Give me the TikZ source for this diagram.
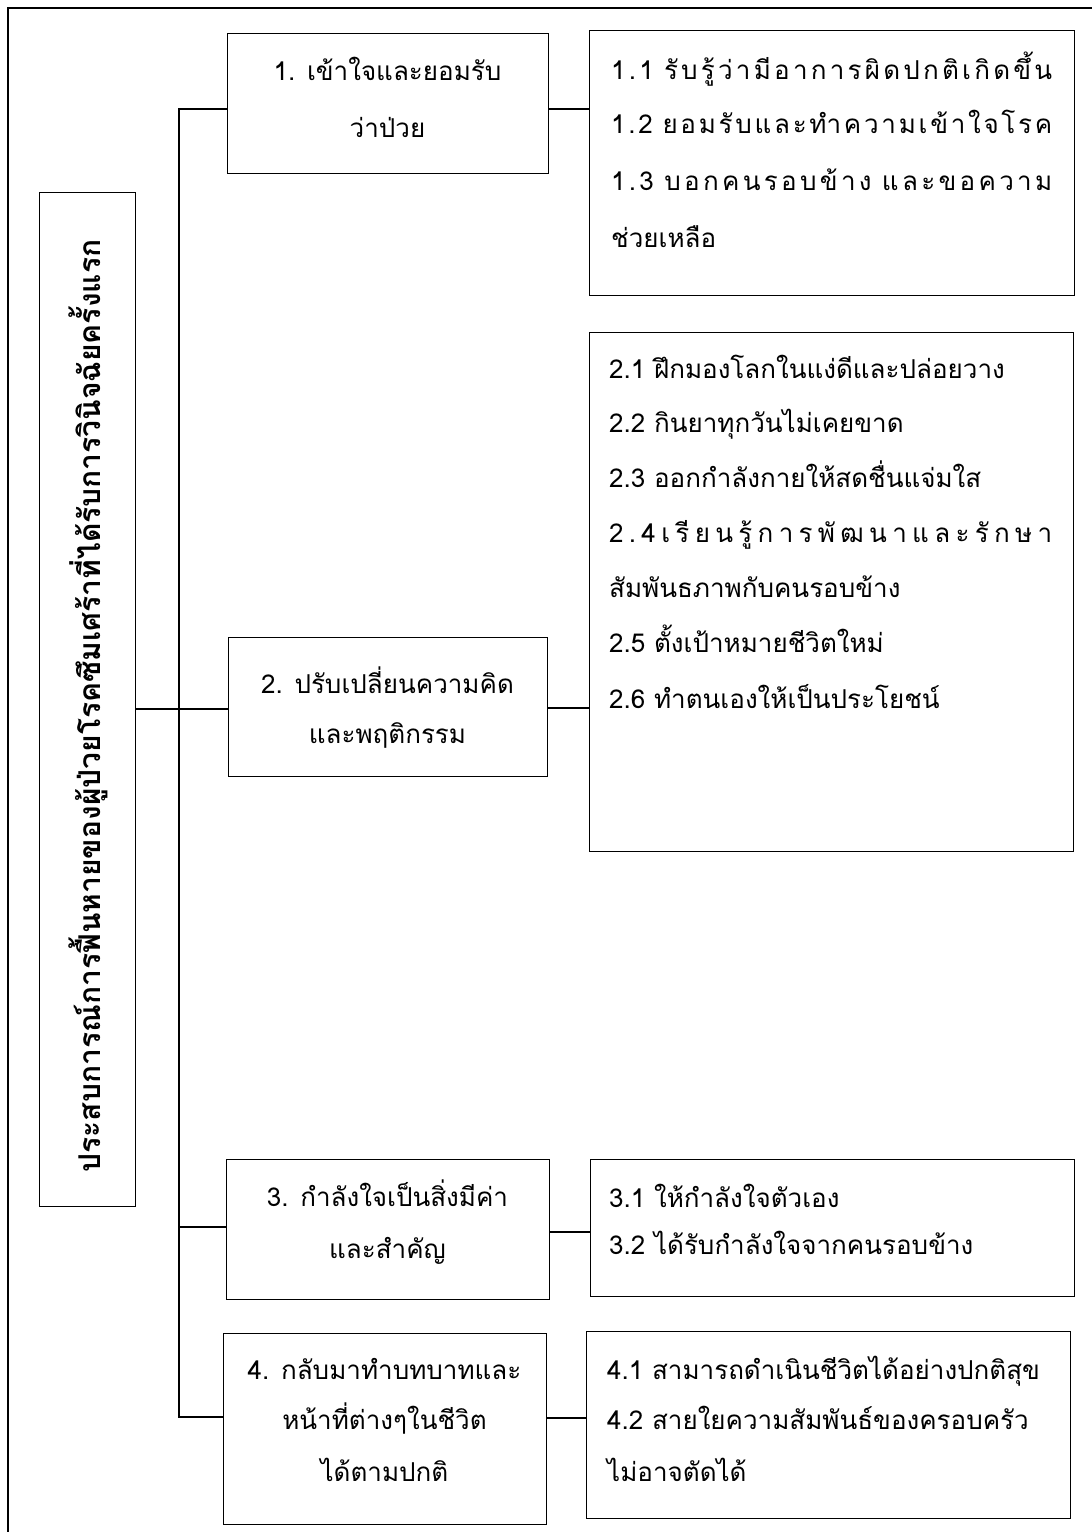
\documentclass[tikz,border=0pt]{standalone}
\usepackage{fontspec}
\setmainfont[Script=Thai]{Loma}
\newcommand\spreadline[2]{\makebox[#1][s]{#2}}
\tikzset{
  box/.style={draw=black, line width=1.3pt, anchor=north west, inner sep=0pt},
  conn/.style={draw=black, line width=1.7pt, line cap=rect},
  body/.style={inner sep=0pt, font=\fontsize{26}{30}\selectfont},
  ctxt/.style={body, anchor=base},
  ltxt/.style={body, anchor=base west},
}
\begin{document}
\begin{tikzpicture}[x=1pt,y=-1pt]
\useasboundingbox (0,0) rectangle (1092,1532);
\fill[white] (0,0) rectangle (1092,1532);
% outer frame
\draw[line width=1.3pt] (1092,8) -- (8,8) -- (8,1532);

% boxes
\node[box, minimum width=96pt,  minimum height=1014pt] (ttl) at (39,192) {};
\node[box, minimum width=321pt, minimum height=140pt] (b1)  at (227,33) {};
\node[box, minimum width=485pt, minimum height=265pt] (b11) at (589,30) {};
\node[box, minimum width=319pt, minimum height=139pt] (b2)  at (228,637) {};
\node[box, minimum width=484pt, minimum height=519pt] (b21) at (589,332) {};
\node[box, minimum width=323pt, minimum height=140pt] (b3)  at (226,1159) {};
\node[box, minimum width=484pt, minimum height=137pt] (b31) at (590,1159) {};
\node[box, minimum width=323pt, minimum height=191pt] (b4)  at (223,1333) {};
\node[box, minimum width=484pt, minimum height=187pt] (b41) at (586,1331) {};

% connectors
\coordinate (j1) at (179,109);
\coordinate (j2) at (179,709);
\coordinate (j3) at (179,1227);
\coordinate (j4) at (179,1417);
\draw[conn] (j1 -| b1.west) -- (j1) -- (j4) -- (j4 -| b4.west);
\draw[conn] (j2 -| ttl.east) -- (j2 -| b2.west);
\draw[conn] (j3) -- (j3 -| b3.west);
\coordinate (k1) at (568,109);
\coordinate (k2) at (568,708);
\coordinate (k3) at (568,1232);
\coordinate (k4) at (568,1418);
\draw[conn] (k1 -| b1.east) -- (k1 -| b11.west);
\draw[conn] (k2 -| b2.east) -- (k2 -| b21.west);
\draw[conn] (k3 -| b3.east) -- (k3 -| b31.west);
\draw[conn] (k4 -| b4.east) -- (k4 -| b41.west);

% title
\node[rotate=90, inner sep=0pt, font=\bfseries\fontsize{30}{34}\selectfont] (ttltxt) at (88,706)
  {ประสบการณ์การฟื้นหายของผู้ป่วยโรคซึมเศร้าที่ได้รับการวินิจฉัยครั้งแรก};

% box 1
\node[ctxt] (t1a) at (387.5,80) {1. เข้าใจและยอมรับ};
\node[ctxt] (t1b) at (387.5,137) {ว่าป่วย};
% box 1.x
\node[ltxt] (t11) at (611,79) {\spreadline{441pt}{1\hfill.\hfill1\hspace{7pt}\hfill รั\hfill บ\hfill รู้\hfill ว่\hfill า\hfill มี\hfill อ\hfill า\hfill ก\hfill า\hfill ร\hfill ผิ\hfill ด\hfill ป\hfill ก\hfill ติ\hfill เ\hfill กิ\hfill ด\hfill ขึ้\hfill น}};
\node[ltxt] (t12) at (611,133) {\spreadline{441pt}{1\hfill.\hfill2\hspace{7pt}\hfill ย\hfill อ\hfill ม\hfill รั\hfill บ\hfill แ\hfill ล\hfill ะ\hfill ทำ\hfill ค\hfill ว\hfill า\hfill ม\hfill เ\hfill ข้\hfill า\hfill ใ\hfill จ\hfill โ\hfill ร\hfill ค}};
\node[ltxt] (t13) at (611,190) {\spreadline{441pt}{1\hfill.\hfill3\hspace{7pt}\hfill บ\hfill อ\hfill ก\hfill ค\hfill น\hfill ร\hfill อ\hfill บ\hfill ข้\hfill า\hfill ง\hspace{7pt}\hfill แ\hfill ล\hfill ะ\hfill ข\hfill อ\hfill ค\hfill ว\hfill า\hfill ม}};
\node[ltxt] (t14) at (611,247) {ช่วยเหลือ};

% box 2
\node[ctxt] (t2a) at (387.5,693) {2. ปรับเปลี่ยนความคิด};
\node[ctxt] (t2b) at (387.5,743) {และพฤติกรรม};
% box 2.x
\node[ltxt] (t21) at (609,378) {2.1 ฝึกมองโลกในแง่ดีและปล่อยวาง};
\node[ltxt] (t22) at (609,432) {2.2 กินยาทุกวันไม่เคยขาด};
\node[ltxt] (t23) at (609,487) {2.3 ออกกำลังกายให้สดชื่นแจ่มใส};
\node[ltxt] (t24) at (609,542) {\spreadline{443pt}{2\hfill.\hfill4\hfill เ\hfill รี\hfill ย\hfill น\hfill รู้\hfill ก\hfill า\hfill ร\hfill พั\hfill ฒ\hfill น\hfill า\hfill แ\hfill ล\hfill ะ\hfill รั\hfill ก\hfill ษ\hfill า}};
\node[ltxt] (t24b) at (609,597) {สัมพันธภาพกับคนรอบข้าง};
\node[ltxt] (t25) at (609,652) {2.5 ตั้งเป้าหมายชีวิตใหม่};
\node[ltxt] (t26) at (609,708) {2.6 ทำตนเองให้เป็นประโยชน์};

% box 3
\node[ctxt] (t3a) at (387.5,1206) {3. กำลังใจเป็นสิ่งมีค่า};
\node[ctxt] (t3b) at (387.5,1258) {และสำคัญ};
% box 3.x
\node[ltxt] (t31) at (609,1207) {3.1 ให้กำลังใจตัวเอง};
\node[ltxt] (t32) at (609,1254) {3.2 ได้รับกำลังใจจากคนรอบข้าง};

% box 4
\node[ctxt] (t4a) at (384.5,1379) {4. กลับมาทำบทบาทและ};
\node[ctxt] (t4b) at (384.5,1429) {หน้าที่ต่างๆในชีวิต};
\node[ctxt] (t4c) at (384.5,1481) {ได้ตามปกติ};
% box 4.x
\node[ltxt] (t41) at (607,1379) {4.1 สามารถดำเนินชีวิตได้อย่างปกติสุข};
\node[ltxt] (t42) at (607,1429) {4.2 สายใยความสัมพันธ์ของครอบครัว};
\node[ltxt] (t43) at (607,1481) {ไม่อาจตัดได้};
\end{tikzpicture}
\end{document}
